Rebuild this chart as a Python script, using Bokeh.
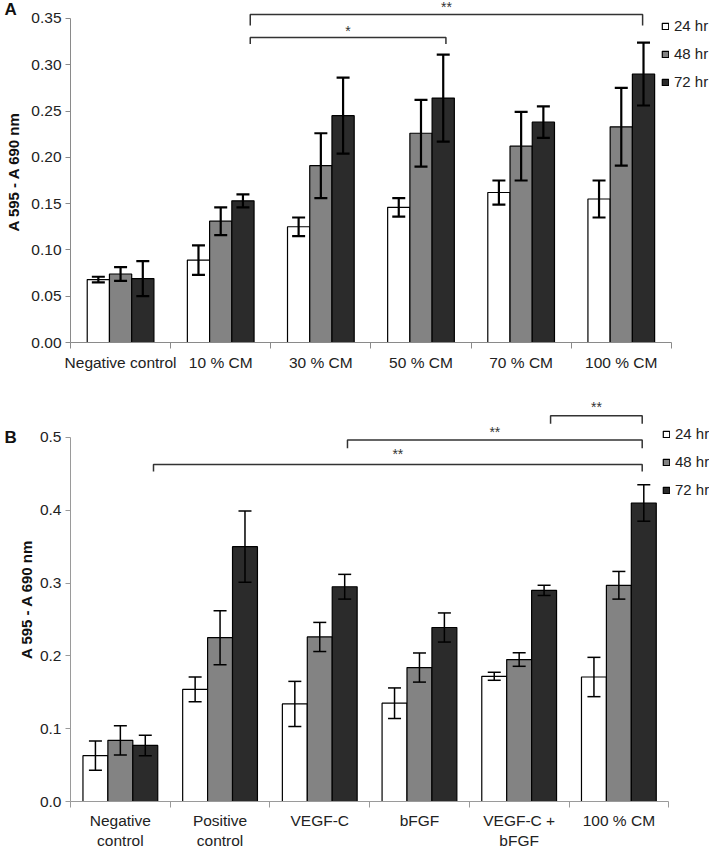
from bokeh.plotting import figure
from bokeh.models import (Range1d, FixedTicker, NumeralTickFormatter, Whisker, TeeHead,
                          ColumnDataSource, Legend, LegendItem, Label)
from bokeh.layouts import column
from bokeh.embed import file_html
from bokeh.resources import INLINE
from bokeh.core.properties import value

FONT = "Liberation Sans"

# ---------------- data ----------------
series_names = ["24 hr", "48 hr", "72 hr"]
series_colors = ["#ffffff", "#838383", "#2b2b2b"]

categories_a = ["Negative control", "10 % CM", "30 % CM", "50 % CM", "70 % CM", "100 % CM"]
a_24 = [0.068, 0.089, 0.125, 0.146, 0.162, 0.155]
a_24_err = [0.003, 0.016, 0.010, 0.010, 0.013, 0.020]
a_48 = [0.074, 0.131, 0.191, 0.226, 0.212, 0.233]
a_48_err = [0.0075, 0.015, 0.035, 0.036, 0.037, 0.042]
a_72 = [0.069, 0.153, 0.245, 0.264, 0.238, 0.290]
a_72_err = [0.019, 0.007, 0.041, 0.047, 0.017, 0.034]
yticks_a = [0.0, 0.05, 0.10, 0.15, 0.20, 0.25, 0.30, 0.35]
# significance brackets: (x start, x end, y, drop, label, label baseline y)
brackets_a = [
    (1.795, 5.713, 0.3543, 0.012, "**", 0.3619),
    (1.795, 3.749, 0.3295, 0.007, "*", 0.3360),
]

categories_b = ["Negative\ncontrol", "Positive\ncontrol", "VEGF-C", "bFGF", "VEGF-C +\nbFGF", "100 % CM"]
b_24 = [0.063, 0.154, 0.134, 0.135, 0.172, 0.171]
b_24_err = [0.020, 0.017, 0.031, 0.021, 0.0055, 0.027]
b_48 = [0.084, 0.225, 0.226, 0.184, 0.195, 0.297]
b_48_err = [0.020, 0.037, 0.020, 0.020, 0.0093, 0.019]
b_72 = [0.077, 0.350, 0.295, 0.239, 0.290, 0.410]
b_72_err = [0.014, 0.049, 0.017, 0.020, 0.007, 0.025]
yticks_b = [0.0, 0.1, 0.2, 0.3, 0.4, 0.5]
brackets_b = [
    (4.815, 5.734, 0.5300, 0.011, "**", 0.5420),
    (2.778, 5.734, 0.4965, 0.0113, "**", 0.5080),
    (0.8325, 5.734, 0.4630, 0.0096, "**", 0.4770),
]


def make_panel(cats, vals, errs, yticks, yfmt, brackets, letter, *, width, height,
               border_left, border_bottom, x_end, y_end, bar_w, axis_color,
               err_w, label_standoff, legend_loc, letter_xy, letter_side,
               ylabel_standoff, xfont):
    p = figure(width=width, height=height, output_backend="svg", toolbar_location=None,
               x_range=Range1d(0, x_end), y_range=Range1d(0, y_end),
               min_border_left=border_left, min_border_right=0, min_border_top=0,
               min_border_bottom=border_bottom)
    p.outline_line_color = None
    p.grid.visible = False
    p.background_fill_color = "white"

    n = len(cats)
    offsets = [-bar_w, 0.0, bar_w]
    items = []
    for s, (name, color) in enumerate(zip(series_names, series_colors)):
        xs = [i + 0.5 + offsets[s] for i in range(n)]
        src = ColumnDataSource(dict(
            x=xs, top=vals[s],
            upper=[v + e for v, e in zip(vals[s], errs[s])],
            lower=[v - e for v, e in zip(vals[s], errs[s])],
        ))
        r = p.vbar(x="x", top="top", width=bar_w, source=src, fill_color=color,
                   line_color="black", line_width=1.2)
        items.append(LegendItem(label=name, renderers=[r]))
        w = Whisker(source=src, base="x", upper="upper", lower="lower",
                    line_color="black", line_width=err_w, level="annotation",
                    upper_head=TeeHead(size=13, line_width=err_w, line_color="black"),
                    lower_head=TeeHead(size=13, line_width=err_w, line_color="black"))
        p.add_layout(w)

    # significance brackets
    bxs, bys, tx, ty, tt = [], [], [], [], []
    for x0, x1, y, d, lab, ly in brackets:
        bxs.append([x0, x0, x1, x1])
        bys.append([y - d, y, y, y - d])
        tx.append((x0 + x1) / 2)
        ty.append(ly)
        tt.append(lab)
    p.multi_line(xs=bxs, ys=bys, line_color="#333333", line_width=1.5)
    p.text(x=tx, y=ty, text=tt, text_align="center", text_baseline="alphabetic",
           text_font=value(FONT), text_font_size="14px", text_color="#333333")

    # x axis: labels centred, ticks at category boundaries
    xa = p.xaxis[0]
    xa.ticker = FixedTicker(ticks=[i + 0.5 for i in range(n)],
                            minor_ticks=[float(i) for i in range(n + 1)])
    xa.major_label_overrides = {i + 0.5: c for i, c in enumerate(cats)}
    xa.bounds = (0, n)
    xa.axis_line_color = axis_color
    xa.major_tick_line_color = None
    xa.minor_tick_line_color = axis_color
    xa.minor_tick_in = 0
    xa.minor_tick_out = 6
    xa.major_label_standoff = label_standoff
    xa.major_label_text_font = FONT
    xa.major_label_text_font_size = xfont
    xa.major_label_text_color = "#222222"

    ya = p.yaxis[0]
    ya.ticker = FixedTicker(ticks=yticks)
    ya.formatter = NumeralTickFormatter(format=yfmt)
    ya.bounds = (0, yticks[-1])
    ya.axis_line_color = axis_color
    ya.major_tick_line_color = axis_color
    ya.major_tick_in = 0
    ya.major_tick_out = 5
    ya.minor_tick_line_color = None
    ya.major_label_standoff = 4
    ya.major_label_text_font = FONT
    ya.major_label_text_font_size = "15.5px"
    ya.major_label_text_color = "#222222"
    ya.axis_label = "A 595 - A 690 nm"
    ya.axis_label_text_font = FONT
    ya.axis_label_text_font_style = "bold"
    ya.axis_label_text_font_size = "15px"
    ya.axis_label_text_color = "#111111"
    ya.axis_label_standoff = ylabel_standoff

    legend = Legend(items=items, location=legend_loc, orientation="vertical",
                    glyph_width=8, glyph_height=8, label_standoff=5, spacing=11,
                    padding=0, margin=0, border_line_color=None,
                    background_fill_alpha=0, label_text_font=FONT,
                    label_text_font_size="15px", label_text_color="#222222",
                    label_height=8)
    p.add_layout(legend)

    # panel letter: lives in a side panel (so it is not clipped to the frame),
    # positioned through the plot's own scales
    p.add_layout(Label(x=letter_xy[0], y=letter_xy[1], x_units="data", y_units="data",
                       text=letter, text_font=FONT, text_font_style="bold",
                       text_font_size="17px", text_baseline="middle", text_align="left",
                       text_color="#111111"), letter_side)
    return p


pa = make_panel(categories_a, [a_24, a_48, a_72], [a_24_err, a_48_err, a_72_err],
                yticks_a, "0.00", brackets_a, "A",
                width=709, height=396, border_left=69, border_bottom=54,
                x_end=6.381, y_end=0.3694, bar_w=0.222, axis_color="#8a8a8a",
                err_w=2.2, label_standoff=5, legend_loc=(591, 252),
                letter_xy=(-0.658, 0.3597), letter_side="below",
                ylabel_standoff=6, xfont="15.5px")

pb = make_panel(categories_b, [b_24, b_48, b_72], [b_24_err, b_48_err, b_72_err],
                yticks_b, "0.0", brackets_b, "B",
                width=709, height=455, border_left=70, border_bottom=50,
                x_end=6.409, y_end=0.5563, bar_w=0.25, axis_color="#9a9a9a",
                err_w=1.5, label_standoff=4, legend_loc=(592, 303),
                letter_xy=(-0.662, 0.5), letter_side="left",
                ylabel_standoff=2, xfont="15.5px")

layout = column(pa, pb, spacing=0)
open("out.html", "w").write(file_html(layout, INLINE))
